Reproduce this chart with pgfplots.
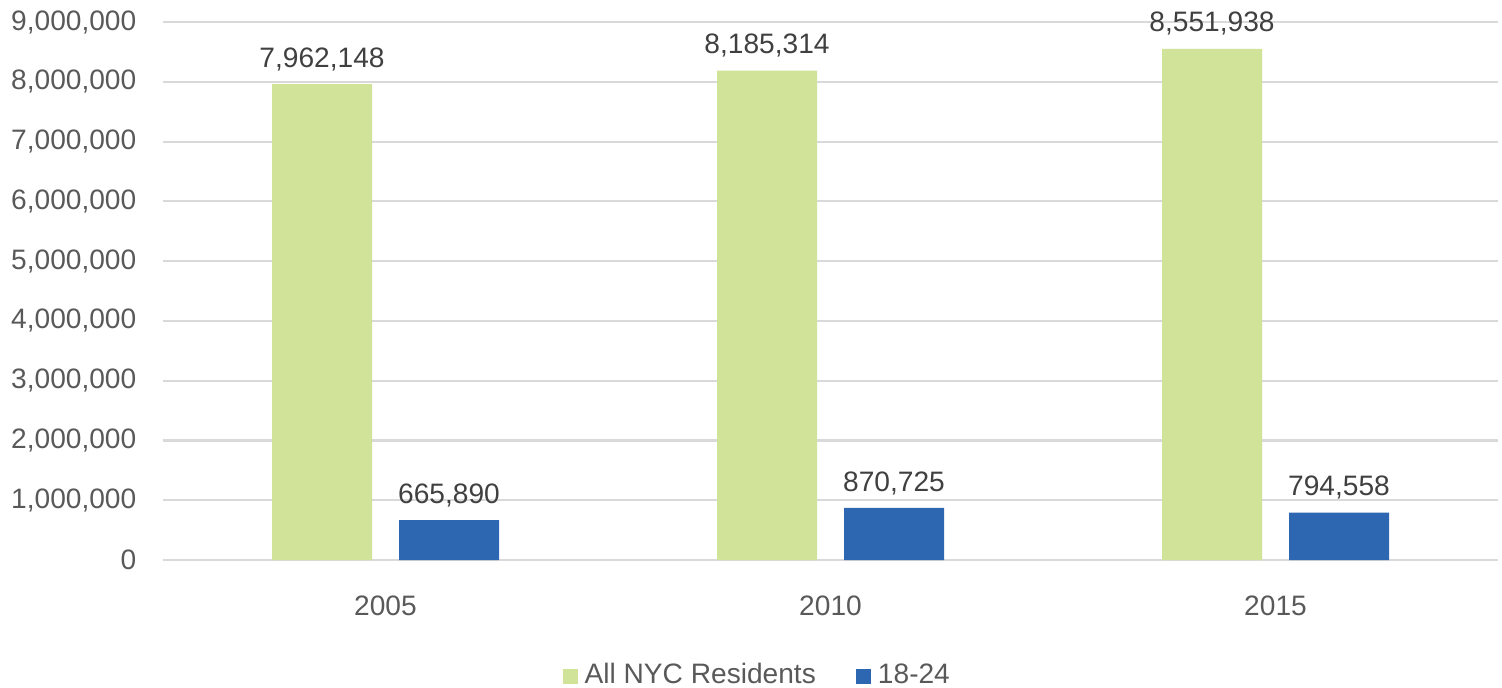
\documentclass[border=0pt]{standalone}
\usepackage{fontspec}
\setmainfont{Liberation Sans}
\usepackage{pgfplots}
\pgfplotsset{compat=1.18}
\definecolor{barGreen}{HTML}{D1E398}
\definecolor{barBlue}{HTML}{2E67B1}
\definecolor{tickGrey}{HTML}{595959}
\definecolor{labGrey}{HTML}{404040}
\definecolor{gridGrey}{HTML}{D9D9D9}
\begin{document}
\begin{tikzpicture}
\begin{axis}[
  scale only axis,
  width=13.35cm, height=5.38cm,
  ybar=0.27cm, bar width=1cm,
  xmin=-0.5, xmax=2.5,
  ymin=0, ymax=9000000,
  ytick={0,1000000,2000000,3000000,4000000,5000000,6000000,7000000,8000000,9000000},
  scaled y ticks=false,
  yticklabel style={/pgf/number format/fixed, /pgf/number format/precision=0, /pgf/number format/1000 sep={,}, /pgf/number format/assume math mode=true},
  xtick=data,
  xticklabels={2005,2010,2015},
  ymajorgrids,
  major grid style={draw=gridGrey, line width=0.6pt},
  axis line style={draw=none},
  tick style={draw=none},
  tick label style={font=\fontsize{8}{9.6}\selectfont, text=tickGrey},
  xticklabel style={inner sep=0pt, yshift=-5.7pt},
  yticklabel style={inner sep=0pt, xshift=-7.4pt},
  point meta=explicit symbolic,
  nodes near coords,
  every node near coord/.append style={font=\fontsize{8}{9.6}\selectfont, text=labGrey, anchor=base, inner sep=0pt, yshift=4.8pt},
  clip=false,
  legend columns=2,
  legend style={draw=none, fill=none, at={(0.447,-0.216)}, anchor=center,
    font=\fontsize{8}{9.6}\selectfont, text=tickGrey,
    /tikz/every even column/.append style={column sep=9.4pt}},
  legend image code/.code={\fill[#1] (0cm,-0.075cm) rectangle (0.15cm,0.075cm);},
]
\addplot[fill=barGreen, draw=none] coordinates {(0,7962148) [7{,}962{,}148] (1,8185314) [8{,}185{,}314] (2,8551938) [8{,}551{,}938]};
\addplot[fill=barBlue, draw=none] coordinates {(0,665890) [665{,}890] (1,870725) [870{,}725] (2,794558) [794{,}558]};
\legend{All NYC Residents, 18-24}
\end{axis}
\pgfresetboundingbox
\path[use as bounding box] (-1.63cm,-1.27cm) rectangle (13.39cm,5.60cm);
\end{tikzpicture}
\end{document}
